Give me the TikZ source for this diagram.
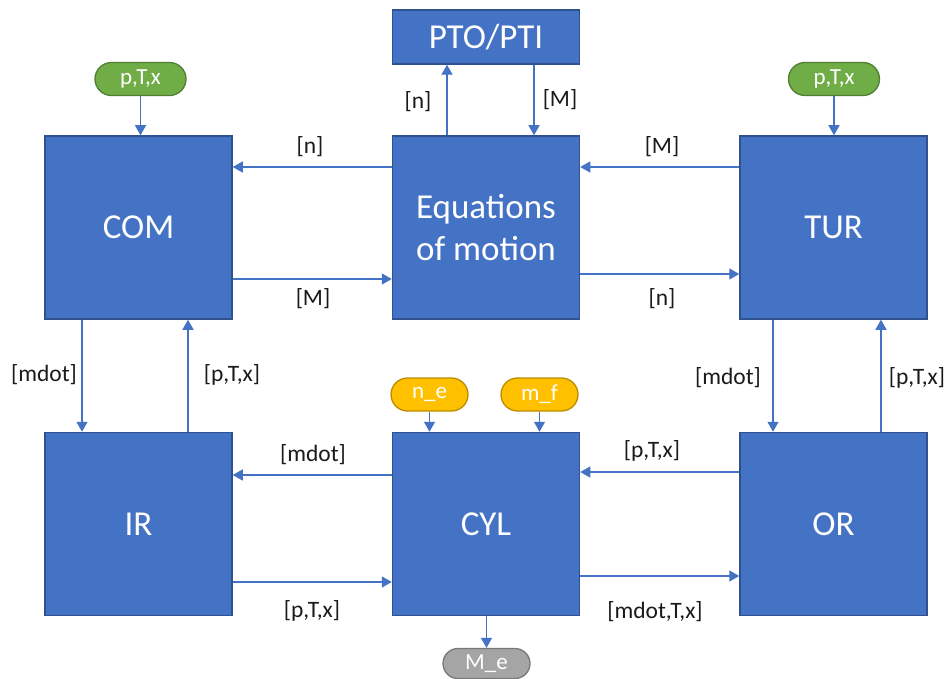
\documentclass[tikz,border=0pt]{standalone}
\usepackage{fontspec}
\setmainfont{Carlito}
\usetikzlibrary{arrows.meta,calc,shapes.misc}
\definecolor{boxblue}{HTML}{4472C4}
\definecolor{boxedge}{HTML}{2F528F}
\definecolor{pillgreen}{HTML}{70AD47}
\definecolor{greenedge}{HTML}{507E32}
\definecolor{pillorange}{HTML}{FFC000}
\definecolor{orangeedge}{HTML}{BC8C00}
\definecolor{pillgray}{HTML}{A5A5A5}
\definecolor{grayedge}{HTML}{787878}
\definecolor{arrowblue}{HTML}{4472C4}
\definecolor{labelgray}{HTML}{1A1A1A}
\begin{document}
\begin{tikzpicture}[x=1pt,y=-1pt,
  block/.style={draw=boxedge, line width=1.5pt, fill=boxblue, text=white,
    minimum width=187pt, minimum height=183pt, inner sep=0pt, align=center,
    font=\fontsize{35}{42}\selectfont},
  pill/.style={rounded rectangle, line width=1.3pt, text=white, minimum height=33pt,
    inner sep=0pt, font=\fontsize{23}{27}\selectfont},
  greenpill/.style={pill, fill=pillgreen, draw=greenedge, minimum width=91pt},
  orangepill/.style={pill, fill=pillorange, draw=orangeedge, minimum width=77pt},
  graypill/.style={pill, fill=pillgray, draw=grayedge, minimum width=87pt, minimum height=30pt},
  lab/.style={text=labelgray, inner sep=0pt, font=\fontsize{23.5}{28}\selectfont},
  arr/.style={draw=arrowblue, line width=1.3pt, -{Triangle[width=11pt,length=10pt]}}]
\fill[white] (0,0) rectangle (947,679);
\useasboundingbox (0,0) rectangle (947,679);

% blocks
\node[block] (com) at (138.5,227.5) {COM};
\node[block] (eq) at (486,227.5) {Equations\\of motion};
\node[block] (tur) at (833.5,227.5) {TUR};
\node[block] (ir) at (138.5,524) {IR};
\node[block] (cyl) at (486,524) {CYL};
\node[block] (or) at (833.5,524) {OR};
\node[block, minimum height=54pt] (pto) at (486,37) {PTO/PTI};

% pills
\node[greenpill] (pc) at (140.5,79) {p,T,x};
\node[greenpill] (pt) at (834,79) {p,T,x};
\node[orangepill] (ne) at (429.5,394.5) {n\_e};
\node[orangepill] (mf) at (539.5,394.5) {m\_f};
\node[graypill] (me) at (486.5,663.5) {M\_e};

% vertical connectors
\draw[arr] (pc.south) -- (pc.south |- com.north);
\draw[arr] (pt.south) -- (pt.south |- tur.north);
\draw[arr] ([xshift=-39pt]eq.north) -- ([xshift=-39pt]pto.south);
\draw[arr] ([xshift=48pt]pto.south) -- ([xshift=48pt]eq.north);
\draw[arr] ([xshift=-56.5pt]com.south) -- ([xshift=-56.5pt]ir.north);
\draw[arr] ([xshift=49.5pt]ir.north) -- ([xshift=49.5pt]com.south);
\draw[arr] ([xshift=-60.5pt]tur.south) -- ([xshift=-60.5pt]or.north);
\draw[arr] ([xshift=47.5pt]or.north) -- ([xshift=47.5pt]tur.south);
\draw[arr] (ne.south) -- (ne.south |- cyl.north);
\draw[arr] (mf.south) -- (mf.south |- cyl.north);
\draw[arr] (me.north |- cyl.south) -- (me.north);

% horizontal connectors
\draw[arr] ([yshift=60.5pt]eq.west) -- ([yshift=60.5pt]com.east);
\draw[arr] ([yshift=-51.5pt]com.east) -- ([yshift=-51.5pt]eq.west);
\draw[arr] ([yshift=60.5pt]tur.west) -- ([yshift=60.5pt]eq.east);
\draw[arr] ([yshift=-46.5pt]eq.east) -- ([yshift=-46.5pt]tur.west);
\draw[arr] ([yshift=49pt]cyl.west) -- ([yshift=49pt]ir.east);
\draw[arr] ([yshift=-58pt]ir.east) -- ([yshift=-58pt]cyl.west);
\draw[arr] ([yshift=52pt]or.west) -- ([yshift=52pt]cyl.east);
\draw[arr] ([yshift=-52pt]cyl.east) -- ([yshift=-52pt]or.west);

% labels
\node[lab] (l1) at (418,102) {[n]};
\node[lab] (l2) at (560,100) {[M]};
\node[lab] (l3) at (310,147) {[n]};
\node[lab] (l4) at (313,299) {[M]};
\node[lab] (l5) at (662,147) {[M]};
\node[lab] (l6) at (662,299) {[n]};
\node[lab] (l7) at (44,375) {[mdot]};
\node[lab] (l8) at (232,375) {[p,T,x]};
\node[lab] (l9) at (728,378) {[mdot]};
\node[lab] (l10) at (917,378) {[p,T,x]};
\node[lab] (l11) at (313,455) {[mdot]};
\node[lab] (l12) at (312,611) {[p,T,x]};
\node[lab] (l13) at (652,451) {[p,T,x]};
\node[lab] (l14) at (655,612) {[mdot,T,x]};
\end{tikzpicture}
\end{document}
